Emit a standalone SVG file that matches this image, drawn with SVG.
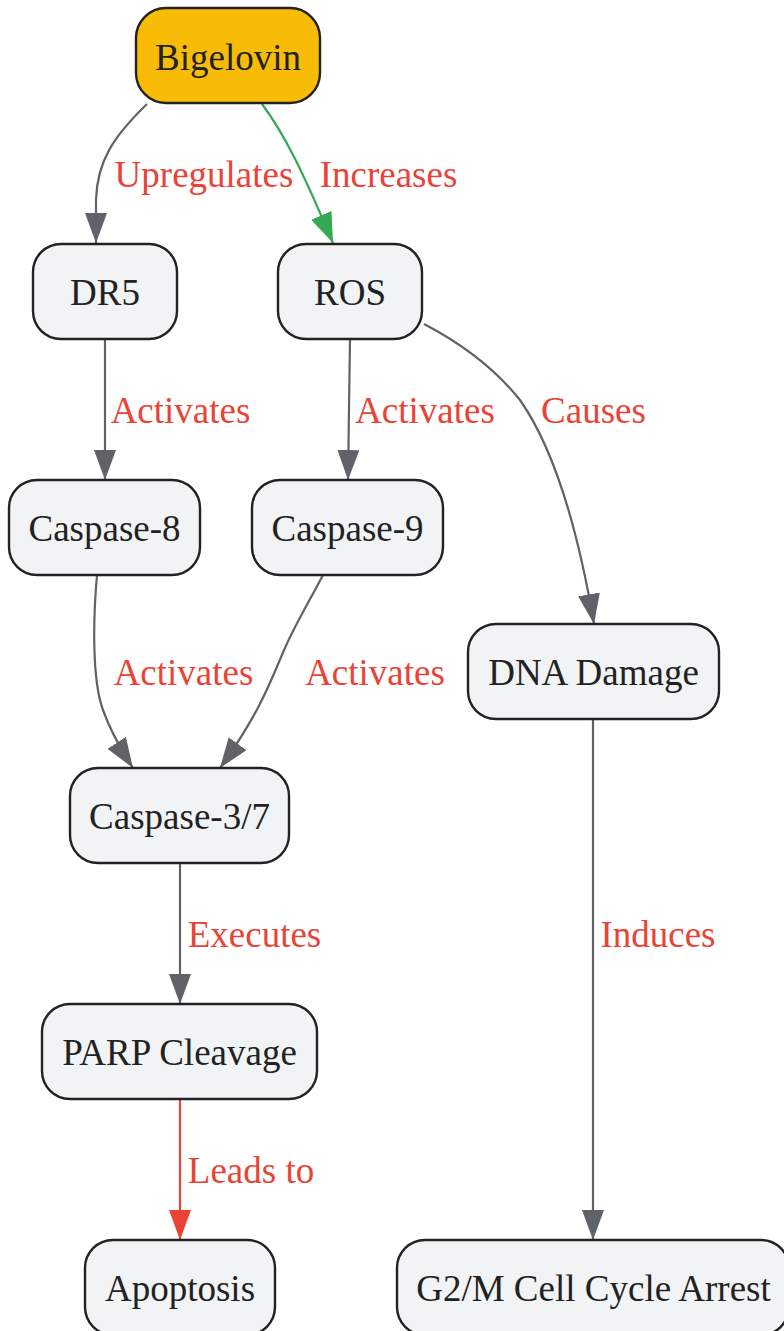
<svg xmlns="http://www.w3.org/2000/svg" width="784" height="1331" viewBox="0 0 784 1331">
<style>
.node rect{fill:#f1f3f5;stroke:#222;stroke-width:2.4}
.node text{font-family:"Liberation Serif",serif;font-size:37px;fill:#222;text-anchor:middle}
.edge{fill:none;stroke:#5f6368;stroke-width:2.2}
.lbl{font-family:"Liberation Serif",serif;font-size:37px;fill:#ea4335;text-anchor:middle}
</style>
<defs>
<marker id="ag" viewBox="0 0 30 22" refX="30" refY="11" markerWidth="30" markerHeight="22" markerUnits="userSpaceOnUse" orient="auto"><path d="M0,0 L30,11 L0,22 z" fill="#5f6368"/></marker>
<marker id="agr" viewBox="0 0 30 22" refX="30" refY="11" markerWidth="30" markerHeight="22" markerUnits="userSpaceOnUse" orient="auto"><path d="M0,0 L30,11 L0,22 z" fill="#34a853"/></marker>
<marker id="ar" viewBox="0 0 30 22" refX="30" refY="11" markerWidth="30" markerHeight="22" markerUnits="userSpaceOnUse" orient="auto"><path d="M0,0 L30,11 L0,22 z" fill="#ea4335"/></marker>
</defs>
<rect width="784" height="1331" fill="#fff"/>
<g id="connectors">
<path class="edge" d="M147,104 C115,135 97,160 96,200 L96,243" marker-end="url(#ag)"/>
<path class="edge" style="stroke:#34a853" d="M262,104 C285,135 302,170 333,243" marker-end="url(#agr)"/>
<path class="edge" d="M105,339 L105,480" marker-end="url(#ag)"/>
<path class="edge" d="M350,339 L348,480" marker-end="url(#ag)"/>
<path class="edge" d="M424,324 C470,348 500,375 520,400 C555,450 578,530 594,624" marker-end="url(#ag)"/>
<path class="edge" d="M97,575 C93,620 92,680 103,710 C110,730 118,745 133,768" marker-end="url(#ag)"/>
<path class="edge" d="M323,575 C310,600 295,625 285,648 C272,677 262,710 220,768" marker-end="url(#ag)"/>
<path class="edge" d="M180,863 L180,1004" marker-end="url(#ag)"/>
<path class="edge" style="stroke:#ea4335" d="M180,1099 L180,1240" marker-end="url(#ar)"/>
<path class="edge" d="M593,719 L593,1240" marker-end="url(#ag)"/>
<text class="lbl" x="204" y="187">Upregulates</text>
<text class="lbl" x="388.5" y="187">Increases</text>
<text class="lbl" x="180.5" y="423">Activates</text>
<text class="lbl" x="425" y="423">Activates</text>
<text class="lbl" x="593.5" y="423">Causes</text>
<text class="lbl" x="183.5" y="685">Activates</text>
<text class="lbl" x="375" y="685">Activates</text>
<text class="lbl" x="254.5" y="947">Executes</text>
<text class="lbl" x="251" y="1183">Leads to</text>
<text class="lbl" x="658" y="947">Induces</text>
</g>
<g id="bigelovin" class="node"><rect x="136" y="8" width="184" height="95" rx="30" style="fill:#f9bc06"/><text x="228" y="70">Bigelovin</text></g>
<g id="dr5" class="node"><rect x="33" y="244" width="144" height="95" rx="28"/><text x="105" y="305">DR5</text></g>
<g id="ros" class="node"><rect x="278" y="244" width="144" height="95" rx="28"/><text x="350" y="305">ROS</text></g>
<g id="caspase8" class="node"><rect x="9" y="480" width="191" height="95" rx="28"/><text x="104.5" y="541">Caspase-8</text></g>
<g id="caspase9" class="node"><rect x="252" y="480" width="191" height="95" rx="28"/><text x="347.5" y="541">Caspase-9</text></g>
<g id="dnadamage" class="node"><rect x="468" y="624" width="251" height="95" rx="28"/><text x="593.5" y="685">DNA Damage</text></g>
<g id="caspase37" class="node"><rect x="70" y="768" width="219" height="95" rx="28"/><text x="179.5" y="829">Caspase-3/7</text></g>
<g id="parp" class="node"><rect x="42" y="1004" width="275" height="95" rx="28"/><text x="179.5" y="1065">PARP Cleavage</text></g>
<g id="apoptosis" class="node"><rect x="85" y="1240" width="190" height="95" rx="28"/><text x="180" y="1301">Apoptosis</text></g>
<g id="g2m" class="node"><rect x="397" y="1240" width="392" height="95" rx="28"/><text x="593.5" y="1301">G2/M Cell Cycle Arrest</text></g>
</svg>
